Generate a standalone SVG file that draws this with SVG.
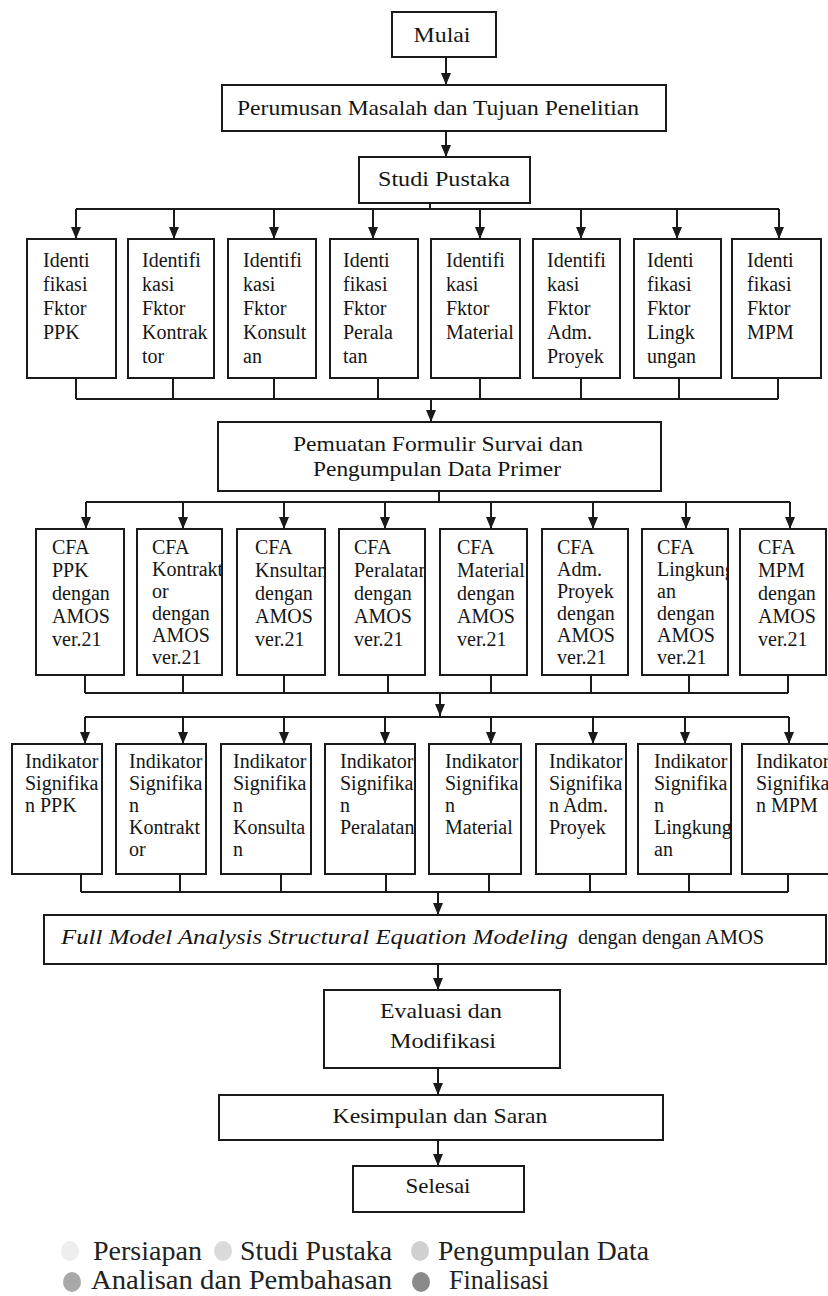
<svg xmlns="http://www.w3.org/2000/svg" width="828" height="1296" viewBox="0 0 828 1296">
<style>
.box{fill:#fff;stroke:#1a1a1a;stroke-width:2}
.ln{fill:none;stroke:#1a1a1a;stroke-width:2}
.t{font-family:"Liberation Serif","Times New Roman",serif;fill:#151515}
.m{font-size:21px;text-anchor:middle}
.s{font-size:20px}
.lg{font-size:27px;fill:#222}
</style>
<defs>
<marker id="ah" viewBox="0 0 12 10" refX="12" refY="5" markerWidth="12" markerHeight="10" markerUnits="userSpaceOnUse" orient="auto">
<path d="M0,0 L12,5 L0,10 z" fill="#1a1a1a"/>
</marker>
<clipPath id="a1"><rect x="27" y="239" width="89" height="139"/></clipPath>
<clipPath id="a2"><rect x="128" y="239" width="86" height="139"/></clipPath>
<clipPath id="a3"><rect x="228" y="239" width="88" height="139"/></clipPath>
<clipPath id="a4"><rect x="330" y="239" width="88" height="139"/></clipPath>
<clipPath id="a5"><rect x="431" y="239" width="89" height="139"/></clipPath>
<clipPath id="a6"><rect x="533" y="239" width="87" height="139"/></clipPath>
<clipPath id="a7"><rect x="634" y="239" width="87" height="139"/></clipPath>
<clipPath id="a8"><rect x="732" y="239" width="89" height="139"/></clipPath>
<clipPath id="b1"><rect x="36" y="529" width="87" height="146"/></clipPath>
<clipPath id="b2"><rect x="137" y="529" width="84" height="146"/></clipPath>
<clipPath id="b3"><rect x="237" y="529" width="87" height="146"/></clipPath>
<clipPath id="b4"><rect x="339" y="529" width="85" height="146"/></clipPath>
<clipPath id="b5"><rect x="440" y="529" width="86" height="146"/></clipPath>
<clipPath id="b6"><rect x="542" y="529" width="85" height="146"/></clipPath>
<clipPath id="b7"><rect x="642" y="529" width="85" height="146"/></clipPath>
<clipPath id="b8"><rect x="740" y="529" width="85" height="146"/></clipPath>
<clipPath id="c1"><rect x="12" y="744" width="89" height="130"/></clipPath>
<clipPath id="c2"><rect x="116" y="744" width="89" height="130"/></clipPath>
<clipPath id="c3"><rect x="221" y="744" width="89" height="130"/></clipPath>
<clipPath id="c4"><rect x="325" y="744" width="89" height="130"/></clipPath>
<clipPath id="c5"><rect x="429" y="744" width="91" height="130"/></clipPath>
<clipPath id="c6"><rect x="536" y="744" width="89" height="130"/></clipPath>
<clipPath id="c7"><rect x="638" y="744" width="92" height="130"/></clipPath>
<clipPath id="c8"><rect x="742" y="744" width="92" height="130"/></clipPath>
</defs>
<rect width="828" height="1296" fill="#fff"/>

<g id="connectors">
<path class="ln" d="M446,57 V85" marker-end="url(#ah)"/>
<path class="ln" d="M446,131 V157" marker-end="url(#ah)"/>
<path class="ln" d="M430,203 V209 M76,209 H779"/>
<path class="ln" d="M76,209 V239" marker-end="url(#ah)"/>
<path class="ln" d="M174,209 V239" marker-end="url(#ah)"/>
<path class="ln" d="M274,209 V239" marker-end="url(#ah)"/>
<path class="ln" d="M373,209 V239" marker-end="url(#ah)"/>
<path class="ln" d="M480,209 V239" marker-end="url(#ah)"/>
<path class="ln" d="M581,209 V239" marker-end="url(#ah)"/>
<path class="ln" d="M677,209 V239" marker-end="url(#ah)"/>
<path class="ln" d="M779,209 V239" marker-end="url(#ah)"/>
<path class="ln" d="M76,378 V399 M173,378 V399 M274,378 V399 M378,378 V399 M480,378 V399 M581,378 V399 M679,378 V399 M778,378 V399 M76,399 H778"/>
<path class="ln" d="M431,399 V422" marker-end="url(#ah)"/>
<path class="ln" d="M439,491 V502 M86,502 H790"/>
<path class="ln" d="M86,502 V529" marker-end="url(#ah)"/>
<path class="ln" d="M183,502 V529" marker-end="url(#ah)"/>
<path class="ln" d="M284,502 V529" marker-end="url(#ah)"/>
<path class="ln" d="M385,502 V529" marker-end="url(#ah)"/>
<path class="ln" d="M491,502 V529" marker-end="url(#ah)"/>
<path class="ln" d="M593,502 V529" marker-end="url(#ah)"/>
<path class="ln" d="M686,502 V529" marker-end="url(#ah)"/>
<path class="ln" d="M790,502 V529" marker-end="url(#ah)"/>
<path class="ln" d="M85,675 V693 M183,675 V693 M284,675 V693 M388,675 V693 M491,675 V693 M591,675 V693 M689,675 V693 M788,675 V693 M85,693 H788"/>
<path class="ln" d="M440,693 V716" marker-end="url(#ah)"/>
<path class="ln" d="M85,717 H789"/>
<path class="ln" d="M85,717 V744" marker-end="url(#ah)"/>
<path class="ln" d="M183,717 V744" marker-end="url(#ah)"/>
<path class="ln" d="M284,717 V744" marker-end="url(#ah)"/>
<path class="ln" d="M385,717 V744" marker-end="url(#ah)"/>
<path class="ln" d="M491,717 V744" marker-end="url(#ah)"/>
<path class="ln" d="M593,717 V744" marker-end="url(#ah)"/>
<path class="ln" d="M685,717 V744" marker-end="url(#ah)"/>
<path class="ln" d="M789,717 V744" marker-end="url(#ah)"/>
<path class="ln" d="M81,874 V892 M180,874 V892 M281,874 V892 M386,874 V892 M489,874 V892 M590,874 V892 M689,874 V892 M788,874 V892 M81,892 H788"/>
<path class="ln" d="M438,892 V915" marker-end="url(#ah)"/>
<path class="ln" d="M438,964 V990" marker-end="url(#ah)"/>
<path class="ln" d="M438,1068 V1095" marker-end="url(#ah)"/>
<path class="ln" d="M438,1140 V1166" marker-end="url(#ah)"/>
</g>

<g id="mulai"><rect class="box" x="392" y="12" width="104" height="45"/><text class="t m" x="442" y="42" textLength="57" lengthAdjust="spacingAndGlyphs">Mulai</text></g>
<g id="perumusan"><rect class="box" x="222" y="85" width="444" height="46"/><text class="t m" x="438" y="115" textLength="402" lengthAdjust="spacingAndGlyphs">Perumusan Masalah dan Tujuan Penelitian</text></g>
<g id="studi"><rect class="box" x="359" y="157" width="171" height="46"/><text class="t m" x="444" y="186" textLength="132" lengthAdjust="spacingAndGlyphs">Studi Pustaka</text></g>

<g id="id-ppk"><rect class="box" x="27" y="239" width="89" height="139"/><g clip-path="url(#a1)"><text class="t s" x="43" y="267">Identi</text><text class="t s" x="43" y="291">fikasi</text><text class="t s" x="43" y="315">Fktor</text><text class="t s" x="43" y="339">PPK</text></g></g>
<g id="id-kontraktor"><rect class="box" x="128" y="239" width="86" height="139"/><g clip-path="url(#a2)"><text class="t s" x="142" y="267">Identifi</text><text class="t s" x="142" y="291">kasi</text><text class="t s" x="142" y="315">Fktor</text><text class="t s" x="142" y="339">Kontrak</text><text class="t s" x="142" y="363">tor</text></g></g>
<g id="id-konsultan"><rect class="box" x="228" y="239" width="88" height="139"/><g clip-path="url(#a3)"><text class="t s" x="243" y="267">Identifi</text><text class="t s" x="243" y="291">kasi</text><text class="t s" x="243" y="315">Fktor</text><text class="t s" x="243" y="339">Konsult</text><text class="t s" x="243" y="363">an</text></g></g>
<g id="id-peralatan"><rect class="box" x="330" y="239" width="88" height="139"/><g clip-path="url(#a4)"><text class="t s" x="343" y="267">Identi</text><text class="t s" x="343" y="291">fikasi</text><text class="t s" x="343" y="315">Fktor</text><text class="t s" x="343" y="339">Perala</text><text class="t s" x="343" y="363">tan</text></g></g>
<g id="id-material"><rect class="box" x="431" y="239" width="89" height="139"/><g clip-path="url(#a5)"><text class="t s" x="446" y="267">Identifi</text><text class="t s" x="446" y="291">kasi</text><text class="t s" x="446" y="315">Fktor</text><text class="t s" x="446" y="339">Material</text></g></g>
<g id="id-adm"><rect class="box" x="533" y="239" width="87" height="139"/><g clip-path="url(#a6)"><text class="t s" x="547" y="267">Identifi</text><text class="t s" x="547" y="291">kasi</text><text class="t s" x="547" y="315">Fktor</text><text class="t s" x="547" y="339">Adm.</text><text class="t s" x="547" y="363">Proyek</text></g></g>
<g id="id-lingkungan"><rect class="box" x="634" y="239" width="87" height="139"/><g clip-path="url(#a7)"><text class="t s" x="647" y="267">Identi</text><text class="t s" x="647" y="291">fikasi</text><text class="t s" x="647" y="315">Fktor</text><text class="t s" x="647" y="339">Lingk</text><text class="t s" x="647" y="363">ungan</text></g></g>
<g id="id-mpm"><rect class="box" x="732" y="239" width="89" height="139"/><g clip-path="url(#a8)"><text class="t s" x="747" y="267">Identi</text><text class="t s" x="747" y="291">fikasi</text><text class="t s" x="747" y="315">Fktor</text><text class="t s" x="747" y="339">MPM</text></g></g>

<g id="pemuatan"><rect class="box" x="218" y="422" width="443" height="69"/><text class="t m" x="438" y="451" textLength="290" lengthAdjust="spacingAndGlyphs">Pemuatan Formulir Survai dan</text><text class="t m" x="437" y="476" textLength="248" lengthAdjust="spacingAndGlyphs">Pengumpulan Data Primer</text></g>

<g id="cfa-ppk"><rect class="box" x="36" y="529" width="88" height="146"/><g clip-path="url(#b1)"><text class="t s" x="52" y="554">CFA</text><text class="t s" x="52" y="577">PPK</text><text class="t s" x="52" y="600">dengan</text><text class="t s" x="52" y="623">AMOS</text><text class="t s" x="52" y="646">ver.21</text></g></g>
<g id="cfa-kontraktor"><rect class="box" x="137" y="529" width="85" height="146"/><g clip-path="url(#b2)"><text class="t s" x="152" y="554">CFA</text><text class="t s" x="152" y="576">Kontrakt</text><text class="t s" x="152" y="598">or</text><text class="t s" x="152" y="620">dengan</text><text class="t s" x="152" y="642">AMOS</text><text class="t s" x="152" y="664">ver.21</text></g></g>
<g id="cfa-konsultan"><rect class="box" x="237" y="529" width="88" height="146"/><g clip-path="url(#b3)"><text class="t s" x="255" y="554">CFA</text><text class="t s" x="255" y="577">Knsultan</text><text class="t s" x="255" y="600">dengan</text><text class="t s" x="255" y="623">AMOS</text><text class="t s" x="255" y="646">ver.21</text></g></g>
<g id="cfa-peralatan"><rect class="box" x="339" y="529" width="86" height="146"/><g clip-path="url(#b4)"><text class="t s" x="354" y="554">CFA</text><text class="t s" x="354" y="577">Peralatan</text><text class="t s" x="354" y="600">dengan</text><text class="t s" x="354" y="623">AMOS</text><text class="t s" x="354" y="646">ver.21</text></g></g>
<g id="cfa-material"><rect class="box" x="440" y="529" width="87" height="146"/><g clip-path="url(#b5)"><text class="t s" x="457" y="554">CFA</text><text class="t s" x="457" y="577">Material</text><text class="t s" x="457" y="600">dengan</text><text class="t s" x="457" y="623">AMOS</text><text class="t s" x="457" y="646">ver.21</text></g></g>
<g id="cfa-adm"><rect class="box" x="542" y="529" width="86" height="146"/><g clip-path="url(#b6)"><text class="t s" x="557" y="554">CFA</text><text class="t s" x="557" y="576">Adm.</text><text class="t s" x="557" y="598">Proyek</text><text class="t s" x="557" y="620">dengan</text><text class="t s" x="557" y="642">AMOS</text><text class="t s" x="557" y="664">ver.21</text></g></g>
<g id="cfa-lingkungan"><rect class="box" x="642" y="529" width="86" height="146"/><g clip-path="url(#b7)"><text class="t s" x="657" y="554">CFA</text><text class="t s" x="657" y="576">Lingkung</text><text class="t s" x="657" y="598">an</text><text class="t s" x="657" y="620">dengan</text><text class="t s" x="657" y="642">AMOS</text><text class="t s" x="657" y="664">ver.21</text></g></g>
<g id="cfa-mpm"><rect class="box" x="740" y="529" width="86" height="146"/><g clip-path="url(#b8)"><text class="t s" x="758" y="554">CFA</text><text class="t s" x="758" y="577">MPM</text><text class="t s" x="758" y="600">dengan</text><text class="t s" x="758" y="623">AMOS</text><text class="t s" x="758" y="646">ver.21</text></g></g>

<g id="ind-ppk"><rect class="box" x="12" y="744" width="90" height="130"/><g clip-path="url(#c1)"><text class="t s" x="25" y="768">Indikator</text><text class="t s" x="25" y="790">Signifika</text><text class="t s" x="25" y="812">n PPK</text></g></g>
<g id="ind-kontraktor"><rect class="box" x="116" y="744" width="90" height="130"/><g clip-path="url(#c2)"><text class="t s" x="129" y="768">Indikator</text><text class="t s" x="129" y="790">Signifika</text><text class="t s" x="129" y="812">n</text><text class="t s" x="129" y="834">Kontrakt</text><text class="t s" x="129" y="856">or</text></g></g>
<g id="ind-konsultan"><rect class="box" x="221" y="744" width="90" height="130"/><g clip-path="url(#c3)"><text class="t s" x="233" y="768">Indikator</text><text class="t s" x="233" y="790">Signifika</text><text class="t s" x="233" y="812">n</text><text class="t s" x="233" y="834">Konsulta</text><text class="t s" x="233" y="856">n</text></g></g>
<g id="ind-peralatan"><rect class="box" x="325" y="744" width="90" height="130"/><g clip-path="url(#c4)"><text class="t s" x="340" y="768">Indikator</text><text class="t s" x="340" y="790">Signifika</text><text class="t s" x="340" y="812">n</text><text class="t s" x="340" y="834">Peralatan</text></g></g>
<g id="ind-material"><rect class="box" x="429" y="744" width="92" height="130"/><g clip-path="url(#c5)"><text class="t s" x="445" y="768">Indikator</text><text class="t s" x="445" y="790">Signifika</text><text class="t s" x="445" y="812">n</text><text class="t s" x="445" y="834">Material</text></g></g>
<g id="ind-adm"><rect class="box" x="536" y="744" width="90" height="130"/><g clip-path="url(#c6)"><text class="t s" x="549" y="768">Indikator</text><text class="t s" x="549" y="790">Signifika</text><text class="t s" x="549" y="812">n Adm.</text><text class="t s" x="549" y="834">Proyek</text></g></g>
<g id="ind-lingkungan"><rect class="box" x="638" y="744" width="93" height="130"/><g clip-path="url(#c7)"><text class="t s" x="654" y="768">Indikator</text><text class="t s" x="654" y="790">Signifika</text><text class="t s" x="654" y="812">n</text><text class="t s" x="654" y="834">Lingkung</text><text class="t s" x="654" y="856">an</text></g></g>
<g id="ind-mpm"><rect class="box" x="742" y="744" width="92" height="130"/><g clip-path="url(#c8)"><text class="t s" x="756" y="768">Indikator</text><text class="t s" x="756" y="790">Signifika</text><text class="t s" x="756" y="812">n MPM</text></g></g>

<g id="fullmodel"><rect class="box" x="44" y="915" width="782" height="49"/><text class="t" x="61" y="944" font-size="21" font-style="italic" textLength="507" lengthAdjust="spacingAndGlyphs">Full Model Analysis  Structural Equation Modeling</text><text class="t" x="578" y="944" font-size="21" textLength="186" lengthAdjust="spacingAndGlyphs">dengan dengan AMOS</text></g>
<g id="evaluasi"><rect class="box" x="324" y="990" width="236" height="78"/><text class="t m" x="441" y="1018" textLength="122" lengthAdjust="spacingAndGlyphs">Evaluasi dan</text><text class="t m" x="443" y="1048" textLength="106" lengthAdjust="spacingAndGlyphs">Modifikasi</text></g>
<g id="kesimpulan"><rect class="box" x="219" y="1095" width="444" height="45"/><text class="t m" x="440" y="1123" textLength="215" lengthAdjust="spacingAndGlyphs">Kesimpulan dan Saran</text></g>
<g id="selesai"><rect class="box" x="353" y="1166" width="171" height="46"/><text class="t m" x="438" y="1193" textLength="65" lengthAdjust="spacingAndGlyphs">Selesai</text></g>

<g id="legend">
<ellipse cx="70" cy="1251" rx="9" ry="10" fill="#eeeeee"/>
<text class="t lg" x="93" y="1260" textLength="109" lengthAdjust="spacingAndGlyphs">Persiapan</text>
<ellipse cx="223" cy="1251" rx="9" ry="10" fill="#dadada"/>
<text class="t lg" x="240" y="1260" textLength="152" lengthAdjust="spacingAndGlyphs">Studi Pustaka</text>
<ellipse cx="420" cy="1251" rx="9" ry="10" fill="#d0d0d0"/>
<text class="t lg" x="438" y="1260" textLength="211" lengthAdjust="spacingAndGlyphs">Pengumpulan Data</text>
<ellipse cx="72" cy="1282" rx="9" ry="10" fill="#a8a8a8"/>
<text class="t lg" x="91" y="1289" textLength="301" lengthAdjust="spacingAndGlyphs">Analisan dan Pembahasan</text>
<ellipse cx="421" cy="1282" rx="9" ry="10" fill="#8a8a8a"/>
<text class="t lg" x="449" y="1289" textLength="100" lengthAdjust="spacingAndGlyphs">Finalisasi</text>
</g>
</svg>
